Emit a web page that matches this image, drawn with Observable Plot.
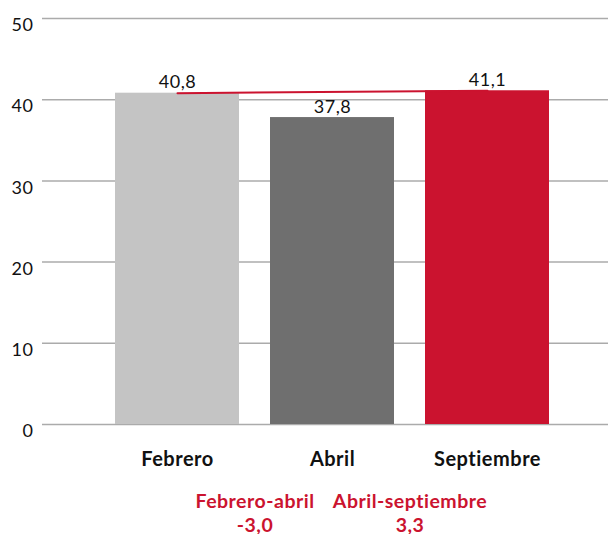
<!DOCTYPE html>
<html>
<head>
<meta charset="utf-8">
<script src="https://cdn.jsdelivr.net/npm/d3@7"></script>
<script src="https://cdn.jsdelivr.net/npm/@observablehq/plot@0.6"></script>
<style>
  html, body { margin: 0; padding: 0; background: #fff; }
  #chart { width: 608px; height: 534px; }
  g[aria-label="change"] { letter-spacing: 0.9px; }
</style>
</head>
<body>
<div id="chart"></div>
<script>
const months = ["Febrero", "Abril", "Septiembre"];
const values = [40.8, 37.8, 41.1];
const barColors = ["#c4c4c4", "#6f6f6f", "#cb132f"];
const yTicks = [0, 10, 20, 30, 40, 50];
const changeFrom = ["Febrero", "Abril"];
const changeLabels = ["Febrero-abril", "Abril-septiembre"];
const changeValues = [-3.0, 3.3];
const lineMonths = ["Febrero", "Septiembre"];

const red = "#cb132f";
const fmt = v => d3.format(".1f")(v).replace(".", ",").replace("−", "-");

const bars = months.map((m, i) => ({month: m, value: values[i]}));
const lineData = bars.filter(d => lineMonths.includes(d.month));
const changes = changeFrom.map((m, i) => ({from: m, label: changeLabels[i], value: changeValues[i]}));

const chart = Plot.plot({
  width: 608,
  height: 534,
  marginLeft: 42,
  marginRight: 0,
  marginTop: 18,
  marginBottom: 110,
  style: {fontFamily: "Lato, 'DejaVu Sans', sans-serif", background: "#fff", color: "#111", letterSpacing: "0.5px"},
  x: {domain: months, range: [99, 564], paddingInner: 0.2, paddingOuter: 0.1, label: null},
  y: {domain: [0, 50], label: null},
  color: {domain: months, range: barColors},
  marks: [
    Plot.ruleY(yTicks, {stroke: "#ababab", strokeWidth: 1.5}),
    Plot.barY(bars, {x: "month", y: "value", fill: "month"}),
    Plot.line(lineData, {x: "month", y: "value", stroke: red, strokeWidth: 2}),
    Plot.text(bars, {x: "month", y: "value", text: d => fmt(d.value), lineAnchor: "bottom", dy: -5, fontSize: 18, fill: "#111"}),
    Plot.axisY({ticks: yTicks, tickSize: 0, tickPadding: 9, dy: 7, fontSize: 18, label: null, tickFormat: d => String(d)}),
    Plot.axisX({tickSize: 0, tickPadding: 27, fontSize: 20, fontWeight: "bold", label: null}),
    Plot.text(changes, {
      x: "from", frameAnchor: "bottom", dx: 77.5, dy: 83, lineAnchor: "bottom",
      text: "label", fill: red, fontWeight: "bold", fontSize: 19.5, ariaLabel: "change"
    }),
    Plot.text(changes, {
      x: "from", frameAnchor: "bottom", dx: 77.5, dy: 107, lineAnchor: "bottom",
      text: d => fmt(d.value), fill: red, fontWeight: "bold", fontSize: 19.5, ariaLabel: "change"
    })
  ]
});
document.getElementById("chart").append(chart);
</script>
</body>
</html>
